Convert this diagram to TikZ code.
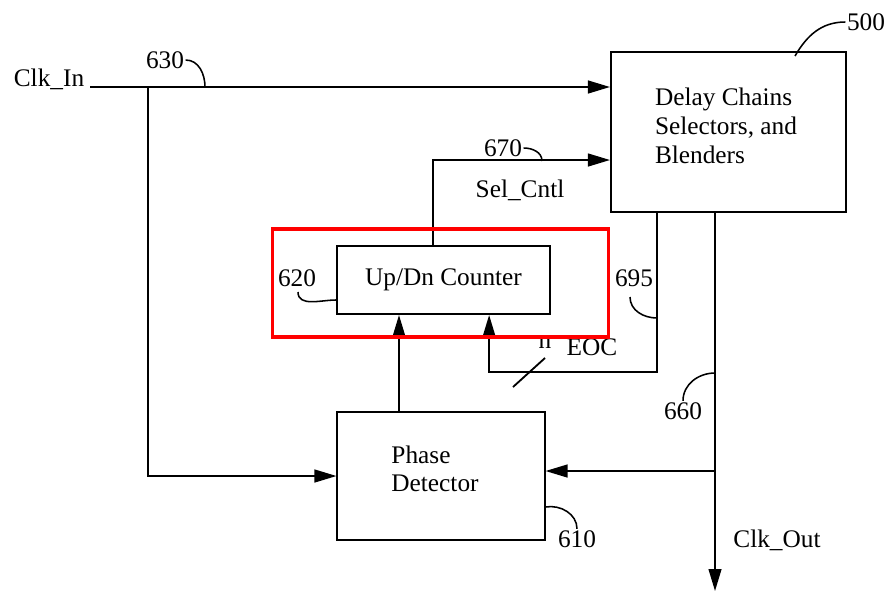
\documentclass[tikz,border=0pt]{standalone}
\usepackage{fontspec}
\setmainfont{Liberation Serif}
\usetikzlibrary{arrows.meta, positioning, calc}
\tikzset{
    box/.style={draw=black, line width=1.4pt, fill=white, align=left, inner sep=0pt, font=\fontsize{18}{21}\selectfont},
    wire/.style={line width=1.3pt, black},
    arrow/.style={-{Triangle[length=0.55cm, width=0.32cm]}, line width=1.3pt, black},
    hook/.style={line width=1.1pt, black},
    lbl/.style={inner sep=1pt, font=\fontsize{18}{21}\selectfont},
    redbox/.style={draw=red, line width=2.2pt, inner sep=0pt}
}
\begin{document}
\begin{tikzpicture}[x=0.025cm, y=-0.025cm]
        \useasboundingbox (0,0) rectangle (891,594);
        \node [box, minimum width=5.875cm, minimum height=4cm] (delay) at (728.5,132) {};
        \node [lbl, align=left, font=\fontsize{18}{20.5}\selectfont] (delaytxt) at (726,126) {Delay Chains\\Selectors, and\\Blenders};
        \node [box, minimum width=5.325cm, minimum height=1.7cm] (updn) at (443.5,280) {Up/Dn Counter};
        \node [box, minimum width=5.175cm, minimum height=3.2cm] (phase) at (441,476) {};
        \node [lbl, align=left, font=\fontsize{18}{20}\selectfont] (phasetxt) at (435,469) {Phase\\Detector};

        \node [lbl] (clkin) at (49,79) {Clk\_In};
        \node [lbl] (clkout) at (777,540) {Clk\_Out};
        \node [lbl] (selcntl) at (520,190) {Sel\_Cntl};
        \node [lbl] (nbits) at (545,343) {n};
        \node [lbl] (eocl) at (592,347) {EOC};

        \coordinate (cin) at (90,87);
        \coordinate (split) at (148,87);
        \coordinate (eoc) at (657,372);
        \coordinate (out) at (715,591);
        \coordinate (fb) at (715,471);

        \draw [arrow] (cin) -- (cin -| delay.west);
        \draw [arrow] (split) |- (phase.west);
        \draw [arrow] ([xshift=-0.26cm]updn.north) |- ([yshift=-0.7cm]delay.west);
        \draw [arrow] (delay.south -| eoc) -- (eoc) -| ([xshift=1.14cm]updn.south);
        \draw [arrow] ([xshift=-1.05cm]phase.north) -- ([xshift=-1.05cm]phase.north |- updn.south);
        \draw [arrow] (delay.south -| out) -- (out);
        \draw [arrow] (fb) -- (fb -| phase.east);
        \draw [wire] (513,387) -- (545,358);

        % reference numerals
        \node [lbl] (n500) at (866,22) {500};
        \node [lbl] (n630) at (165,60) {630};
        \node [lbl] (n670) at (503,148) {670};
        \node [lbl] (n620) at (297,278) {620};
        \node [lbl] (n695) at (634,278) {695};
        \node [lbl] (n660) at (683,411) {660};
        \node [lbl] (n610) at (577,539) {610};
        \draw [hook] (n500.west) to[out=180, in=60] (795,56);
        \draw [hook] (n630.east) to[out=0, in=90] (205,87);
        \draw [hook] (n670.east) to[out=0, in=90] (542,161);
        \draw [hook] (298,292) to[out=-90, in=180] (updn.west |- 0,300);
        \draw [hook] (630,297) to[out=-90, in=180] (eoc |- 0,318);
        \draw [hook] (n660.north) to[out=90, in=180] (715,373);
        \draw [hook] (phase.east |- 0,507) to[out=10, in=90] (n610.north);

        \node [redbox, minimum width=8.4cm, minimum height=2.7cm] (hl) at (440.5,283) {};
    \end{tikzpicture}
\end{document}
